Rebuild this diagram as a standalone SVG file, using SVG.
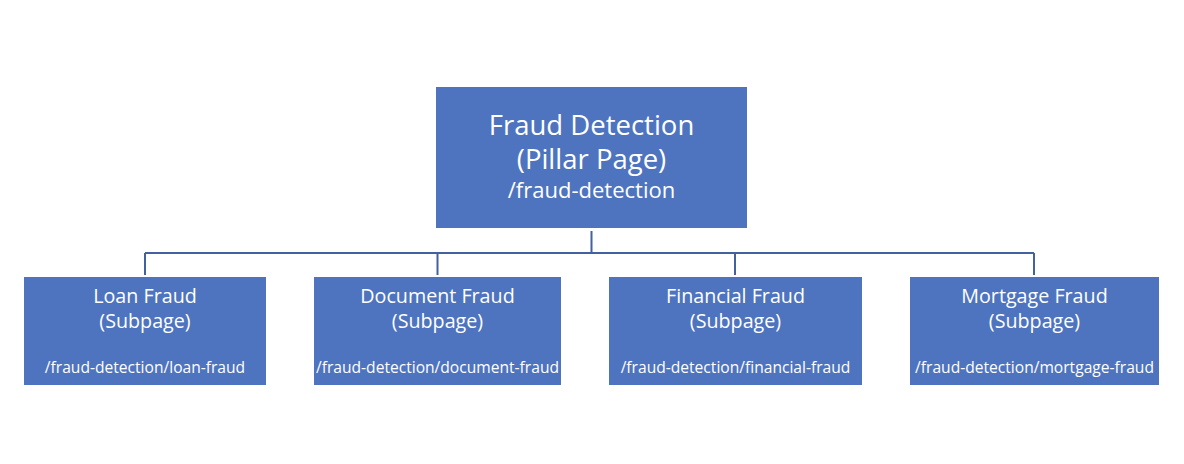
<svg xmlns="http://www.w3.org/2000/svg" width="1184" height="464" viewBox="0 0 1184 464">
<style>
.box{fill:#4E74BF}
.t{fill:#fff;font-family:"Open Sans","Noto Sans",sans-serif;text-anchor:middle}
.h1{font-size:27.5px}
.u1{font-size:22px}
.h2{font-size:19.7px}
.u2{font-size:15.6px}
.c{stroke:#43619F;stroke-width:2;fill:none}
</style>
<rect width="1184" height="464" fill="#fff"/>
<g id="connectors">
<path class="c" d="M591.5 231V253M145 253H1034M145 253V275M437.5 253V275M735 253V275M1034 253V275"/>
</g>
<g id="pillar">
<rect class="box" x="436" y="87" width="311" height="141"/>
<text class="t h1" x="591.5" y="135">Fraud Detection</text>
<text class="t h1" x="591.5" y="169">(Pillar Page)</text>
<text class="t u1" x="591.5" y="198">/fraud-detection</text>
</g>
<g id="loan">
<rect class="box" x="24" y="277" width="242" height="108"/>
<text class="t h2" x="145" y="303">Loan Fraud</text>
<text class="t h2" x="145" y="328">(Subpage)</text>
<text class="t u2" x="145" y="373">/fraud-detection/loan-fraud</text>
</g>
<g id="document">
<rect class="box" x="314" y="277" width="247" height="108"/>
<text class="t h2" x="437.5" y="303">Document Fraud</text>
<text class="t h2" x="437.5" y="328">(Subpage)</text>
<text class="t u2" x="437.5" y="373">/fraud-detection/document-fraud</text>
</g>
<g id="financial">
<rect class="box" x="609" y="277" width="253" height="108"/>
<text class="t h2" x="735.5" y="303">Financial Fraud</text>
<text class="t h2" x="735.5" y="328">(Subpage)</text>
<text class="t u2" x="735.5" y="373">/fraud-detection/financial-fraud</text>
</g>
<g id="mortgage">
<rect class="box" x="910" y="277" width="249" height="108"/>
<text class="t h2" x="1034.5" y="303">Mortgage Fraud</text>
<text class="t h2" x="1034.5" y="328">(Subpage)</text>
<text class="t u2" x="1034.5" y="373">/fraud-detection/mortgage-fraud</text>
</g>
</svg>
